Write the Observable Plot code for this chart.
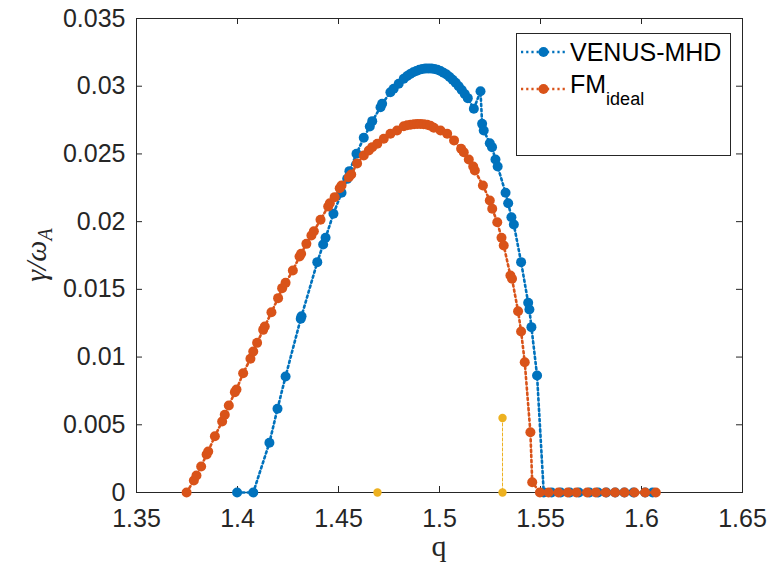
<!DOCTYPE html>
<html><head><meta charset="utf-8">
<script src="https://cdn.jsdelivr.net/npm/d3@7"></script>
<script src="https://cdn.jsdelivr.net/npm/@observablehq/plot@0.6"></script>
<style>body{margin:0;background:#fff}</style>
</head><body><div id="chart"></div>
<script>
// ---- data ----
const venusQ = [1.3998,1.4078,1.4158,1.4198,1.4238,1.4313,1.4317,1.4395,1.4424,1.4436,1.4475,1.4515,1.4543,1.4554,1.4589,1.4625,1.4655,1.4667,1.4708,1.4716,1.4757,1.4773,1.4798,
  1.4823,1.4840,1.4855,1.4870,1.4885,1.4900,1.4915,1.4930,1.4945,1.4960,1.4975,1.4990,1.5005,1.5020,1.5035,1.5050,1.5065,1.5080,1.5095,1.5110,1.5125,1.5140,
  1.5170,1.5203,1.5211,1.5219,1.5249,1.5260,1.5277,1.5288,1.5327,1.5340,1.5356,1.5368,1.5404,1.5439,1.5445,1.5455,1.5483,
  1.5516,1.5555,1.5600,1.5645,1.5690,1.5742,1.5785,1.5826,1.5870,1.5915,1.5960,1.6018,1.6055];
const venusG = [0,0,0.00367,0.00618,0.00857,0.01283,0.01302,0.01701,0.01831,0.01881,0.02058,0.02213,0.02316,0.02373,0.02501,0.02619,0.02703,0.02742,0.02845,0.02870,0.02956,0.02981,0.03018,
  0.03055,0.03075,0.03090,0.03103,0.03113,0.03121,0.03127,0.03130,0.03131,0.03130,0.03127,0.03121,0.03112,0.03100,0.03086,0.03068,0.03048,0.03025,0.03000,0.02972,0.02943,0.02912,
  0.02833,0.02963,0.02722,0.02673,0.02579,0.02550,0.02459,0.02407,0.02213,0.02136,0.02033,0.01979,0.01701,0.01401,0.01351,0.01221,0.00864,
  0,0,0,0,0,0,0,0,0,0,0,0,0];

const fmQ = [1.3748,1.3784,1.3797,1.3820,1.3847,1.3855,1.3888,1.3924,1.3937,1.3957,1.3987,1.3995,1.4028,1.4064,1.4078,1.4097,1.4127,1.4135,1.4168,1.4201,1.4221,1.4238,1.4274,1.4307,1.4315,1.4341,1.4366,1.4378,1.4411,1.4449,1.4457,1.4481,1.4506,1.4515,1.4551,1.4563,1.4592,1.4625,1.4650,1.4667,1.4692,1.4724,1.4757,1.4790,
  1.4823,1.4840,1.4857,1.4874,1.4890,1.4906,1.4922,1.4939,1.4955,1.4972,1.5005,1.5038,1.5072,1.5107,1.5120,1.5145,1.5167,1.5175,1.5215,1.5249,1.5261,1.5286,1.5307,1.5318,1.5351,1.5359,1.5389,1.5404,1.5422,1.5450,1.5459,
  1.5497,1.5540,1.5589,1.5635,1.5678,1.5731,1.5774,1.5823,1.5869,1.5916,1.5965,1.6018,1.6071];
const fmG = [0,0.00089,0.00126,0.00192,0.00281,0.00303,0.00416,0.00524,0.00574,0.00642,0.00741,0.00760,0.00881,0.00987,0.01041,0.01105,0.01201,0.01226,0.01331,0.01435,0.01509,0.01548,0.01639,0.01743,0.01763,0.01836,0.01898,0.01929,0.02014,0.02112,0.02136,0.02181,0.02247,0.02267,0.02328,0.02348,0.02430,0.02488,0.02525,0.02550,0.02575,0.02612,0.02649,0.02673,
  0.02705,0.02712,0.02716,0.02719,0.02721,0.02721,0.02720,0.02716,0.02708,0.02693,0.02673,0.02649,0.02600,0.02538,0.02513,0.02459,0.02407,0.02378,0.02267,0.02156,0.02095,0.01996,0.01881,0.01824,0.01602,0.01578,0.01339,0.01189,0.00962,0.00445,0.00076,
  0,0,0,0,0,0,0,0,0,0,0,0,0];

const extraQ = [1.4693, 1.5312, 1.5312];
const extraG = [0, 0.0055, 0];

const xTicks = [1.35, 1.4, 1.45, 1.5, 1.55, 1.6, 1.65];
const xTickLabels = ["1.35", "1.4", "1.45", "1.5", "1.55", "1.6", "1.65"];
const yTicks = [0, 0.005, 0.01, 0.015, 0.02, 0.025, 0.03, 0.035];
const yTickLabels = ["0", "0.005", "0.01", "0.015", "0.02", "0.025", "0.03", "0.035"];
const seriesNames = ["VENUS-MHD", "FM"];
const colors = ["#0072BD", "#D95319", "#EDB120"];

// ---- build ----
const venus = venusQ.map((q, i) => ({q, g: venusG[i]}));
const fm = fmQ.map((q, i) => ({q, g: fmG[i]}));
const extra = extraQ.map((q, i) => ({q, g: extraG[i]}));
const extraLine = extra.slice(1);

const W = 772, H = 570, mL = 136, mR = 30, mT = 18, mB = 78;
const fw = W - mL - mR, fh = H - mT - mB, tl = 6;
const axisColor = "#262626";
const font = "'Liberation Sans', Arial, Helvetica, sans-serif";
const dash = "2.2,3", lw = 2.6, rr = 5;

const chart = Plot.plot({
  width: W, height: H,
  marginLeft: mL, marginRight: mR, marginTop: mT, marginBottom: mB,
  x: {domain: [1.35, 1.65]},
  y: {domain: [0, 0.035]},
  style: {fontFamily: font, fontSize: "25px", color: axisColor, background: "white"},
  marks: [
    Plot.frame({stroke: axisColor, strokeWidth: 1}),
    Plot.tickX(xTicks, {x: d => d, insetTop: fh - tl, stroke: axisColor}),
    Plot.tickX(xTicks, {x: d => d, insetBottom: fh - tl, stroke: axisColor}),
    Plot.tickY(yTicks, {y: d => d, insetRight: fw - tl, stroke: axisColor}),
    Plot.tickY(yTicks, {y: d => d, insetLeft: fw - tl, stroke: axisColor}),
    Plot.axisX(xTicks, {tickSize: 0, tickPadding: 17, tickFormat: (d, i) => xTickLabels[i], label: null, fontSize: 25}),
    Plot.axisY(yTicks, {tickSize: 0, tickPadding: 11, tickFormat: (d, i) => yTickLabels[i], label: null, fontSize: 25}),
    Plot.line(extraLine, {x: "q", y: "g", stroke: colors[2], strokeWidth: 1, strokeDasharray: "3,2"}),
    Plot.dot(extra, {x: "q", y: "g", r: 4.2, fill: colors[2], stroke: "none"}),
    Plot.line(venus, {x: "q", y: "g", stroke: colors[0], strokeWidth: lw, strokeDasharray: dash}),
    Plot.dot(venus, {x: "q", y: "g", r: rr, fill: colors[0], stroke: "none"}),
    Plot.line(fm, {x: "q", y: "g", stroke: colors[1], strokeWidth: lw, strokeDasharray: dash}),
    Plot.dot(fm, {x: "q", y: "g", r: rr, fill: colors[1], stroke: "none"})
  ]
});
document.getElementById("chart").appendChild(chart);

// ---- axis labels ----
const svg = d3.select(chart);
svg.append("text")
  .attr("x", mL + fw / 2).attr("y", 556)
  .attr("text-anchor", "middle")
  .attr("font-family", "'Liberation Serif', 'DejaVu Serif', serif")
  .attr("font-size", 30).attr("fill", axisColor)
  .text("q");
const yl = svg.append("text")
  .attr("transform", "translate(46," + (mT + fh / 2) + ") rotate(-90)")
  .attr("text-anchor", "middle")
  .attr("font-family", "'Liberation Serif', 'DejaVu Serif', serif")
  .attr("font-style", "italic")
  .attr("font-size", 30).attr("fill", axisColor);
yl.append("tspan").text("γ/ω");
yl.append("tspan").attr("font-size", 20).attr("dy", 6).text("A");

// ---- legend ----
const lg = svg.append("g");
lg.append("rect").attr("x", 516.5).attr("y", 33.5).attr("width", 214).attr("height", 122)
  .attr("fill", "white").attr("stroke", axisColor).attr("stroke-width", 1);
const rows = [52, 89];
seriesNames.forEach((name, i) => {
  const y = rows[i];
  lg.append("line").attr("x1", 521).attr("x2", 566).attr("y1", y).attr("y2", y)
    .attr("stroke", colors[i]).attr("stroke-width", lw).attr("stroke-dasharray", dash);
  lg.append("circle").attr("cx", 543.5).attr("cy", y).attr("r", rr).attr("fill", colors[i]);
  const t = lg.append("text").attr("x", 570).attr("y", i === 0 ? 61 : 93)
    .attr("text-anchor", "start")
    .attr("font-family", font).attr("font-size", 25).attr("fill", "#000");
  t.append("tspan").text(name);
  if (i === 1) t.append("tspan").attr("font-size", 18).attr("dy", 12).text("ideal");
});
</script>
</body></html>
